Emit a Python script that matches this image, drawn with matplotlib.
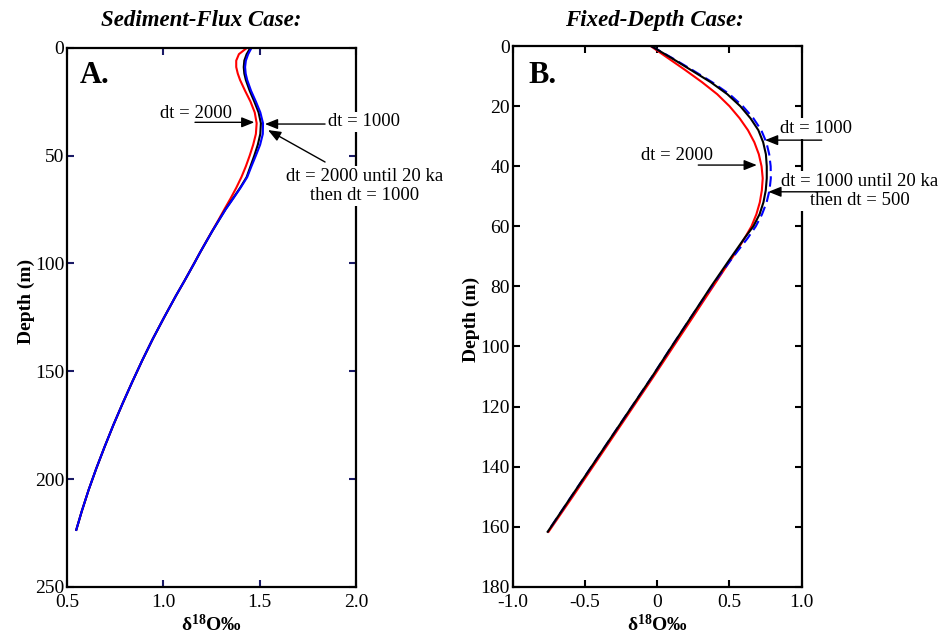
import matplotlib
matplotlib.use("Agg")
import matplotlib.pyplot as plt

plt.rcParams["font.family"] = ["Liberation Serif", "DejaVu Serif"]
plt.rcParams["mathtext.fontset"] = "custom"
plt.rcParams["mathtext.rm"] = "Liberation Serif"
plt.rcParams["mathtext.bf"] = "Liberation Serif:bold"
plt.rcParams["mathtext.it"] = "Liberation Serif:italic"

# --- sediment-flux case: d18O profiles vs depth (m) ---
depth_a = [0, 3, 6, 9, 12, 15, 20, 25, 30, 35, 40, 45, 50, 55, 60, 65, 70, 75,
           80, 85, 90, 95, 100, 108, 115, 125, 135, 145, 155, 165, 175, 185,
           195, 205, 215, 223.5]
# deep part is shared by all three runs
deep_a = [1.110, 1.065, 1.004, 0.945, 0.890, 0.838, 0.788, 0.740, 0.695,
          0.652, 0.612, 0.576, 0.548]
d18o_a_dt1000 = [1.452, 1.432, 1.420, 1.417, 1.420, 1.428, 1.448, 1.472, 1.494,
                 1.506, 1.503, 1.490, 1.472, 1.452, 1.432, 1.398, 1.360, 1.322,
                 1.288, 1.254, 1.222, 1.190, 1.160] + deep_a
d18o_a_dt2000 = [1.435, 1.392, 1.378, 1.378, 1.386, 1.398, 1.424, 1.452, 1.474,
                 1.484, 1.480, 1.466, 1.448, 1.428, 1.405, 1.378, 1.348, 1.316,
                 1.285, 1.253, 1.221, 1.190, 1.159] + deep_a
d18o_a_mixed = [1.458, 1.440, 1.428, 1.424, 1.427, 1.435, 1.455, 1.480, 1.503,
                1.517, 1.516, 1.502, 1.480, 1.457, 1.435, 1.400, 1.362, 1.323,
                1.288, 1.254, 1.222, 1.190, 1.160] + deep_a

# --- fixed-depth case ---
depth_b = [0, 4, 8, 12, 16, 20, 24, 28, 32, 36, 40, 44, 48, 52, 56, 60, 64, 68,
           72, 76, 80, 85, 90, 100, 110, 120, 130, 140, 150, 161.7]
d18o_b_dt1000 = [-0.04, 0.10, 0.235, 0.37, 0.485, 0.575, 0.645, 0.70, 0.733,
                 0.752, 0.758, 0.758, 0.751, 0.735, 0.708, 0.665, 0.603, 0.545,
                 0.487, 0.430, 0.373, 0.305, 0.237, 0.10, -0.035, -0.175,
                 -0.315, -0.455, -0.595, -0.758]
d18o_b_dt2000 = [-0.045, 0.075, 0.195, 0.31, 0.415, 0.50, 0.57, 0.628, 0.672,
                 0.703, 0.722, 0.730, 0.724, 0.71, 0.686, 0.652, 0.604, 0.553,
                 0.497, 0.442, 0.387, 0.318, 0.25, 0.112, -0.025, -0.165,
                 -0.305, -0.445, -0.585, -0.752]
d18o_b_mixed = [-0.04, 0.105, 0.245, 0.38, 0.50, 0.592, 0.665, 0.72, 0.755,
                0.775, 0.785, 0.786, 0.777, 0.757, 0.725, 0.682, 0.625, 0.56,
                0.497, 0.436, 0.378, 0.307, 0.237, 0.10, -0.035, -0.175,
                -0.315, -0.455, -0.595, -0.758]

xticks_a = [0.5, 1.0, 1.5, 2.0]
xticklabels_a = ["0.5", "1.0", "1.5", "2.0"]
yticks_a = [0, 50, 100, 150, 200, 250]
xticks_b = [-1.0, -0.5, 0, 0.5, 1.0]
xticklabels_b = ["-1.0", "-0.5", "0", "0.5", "1.0"]
yticks_b = [0, 20, 40, 60, 80, 100, 120, 140, 160, 180]

TICK_FS = 14
NOTE_FS = 13.5
LW = 1.5

fig = plt.figure(figsize=(9.43, 6.39), dpi=100)
ax_a = fig.add_axes([0.0711, 0.0814, 0.3065, 0.844])
ax_b = fig.add_axes([0.5437, 0.0818, 0.3065, 0.846])

note_box = dict(boxstyle="square,pad=0.1", facecolor="white", edgecolor="none")
arrow = dict(arrowstyle="-|>,head_length=0.55,head_width=0.22", color="black",
             lw=1.0, shrinkA=0, shrinkB=0, mutation_scale=14)


def style_axis(ax, xlim, ylim, xticks, xlabels, yticks, tick_color, ylab_y):
    ax.set_xlim(*xlim)
    ax.set_ylim(*ylim)
    ax.set_xticks(xticks)
    ax.set_xticklabels(xlabels)
    ax.set_yticks(yticks)
    ax.tick_params(direction="in", length=5, width=1.5, colors=tick_color,
                   labelcolor="black", labelsize=TICK_FS,
                   top=True, right=True)
    ax.tick_params(axis="x", pad=5)
    ax.tick_params(axis="y", pad=2)
    for sp in ax.spines.values():
        sp.set_linewidth(1.6)
    ax.set_ylabel("Depth (m)", fontsize=14, fontweight="bold")
    ax.set_xlabel(r"δ$^{\mathbf{18}}$O‰", fontsize=14, fontweight="bold")
    ax.yaxis.set_label_coords(-0.112, ylab_y)
    ax.xaxis.set_label_coords(0.5, -0.05)


def note(ax, text, xy, ha="left"):
    ax.annotate(text, xy=xy, fontsize=NOTE_FS, va="center", ha=ha,
                multialignment="center", bbox=note_box,
                annotation_clip=False, zorder=5)


def arrow_to(ax, tail, head):
    ax.annotate("", xy=head, xytext=tail, arrowprops=arrow,
                annotation_clip=False, zorder=6)


# panel A
ax_a.plot(d18o_a_dt2000, depth_a, color="red", lw=LW)
ax_a.plot(d18o_a_dt1000, depth_a, color="black", lw=LW)
ax_a.plot(d18o_a_mixed, depth_a, color="blue", lw=LW)
style_axis(ax_a, (0.5, 2.0), (250, 0), xticks_a, xticklabels_a, yticks_a,
           "#1a1a66", 0.53)
ax_a.text(0.564, 16.5, "A.", fontsize=22, fontweight="bold", va="baseline")

note(ax_a, "dt = 2000", (0.983, 30.3))
arrow_to(ax_a, (1.164, 34.6), (1.472, 34.6))
note(ax_a, "dt = 1000", (1.854, 34.4))
arrow_to(ax_a, (1.839, 35.4), (1.527, 35.4))
note(ax_a, "dt = 2000 until 20 ka\nthen dt = 1000", (2.046, 64.1), ha="center")
arrow_to(ax_a, (1.839, 53.0), (1.543, 38.2))

# panel B
ax_b.plot(d18o_b_dt2000, depth_b, color="red", lw=LW)
ax_b.plot(d18o_b_mixed, depth_b, color="blue", lw=LW, dashes=(5, 2.5))
ax_b.plot(d18o_b_dt1000, depth_b, color="black", lw=LW)
style_axis(ax_b, (-1.0, 1.0), (180, 0), xticks_b, xticklabels_b, yticks_b,
           "black", 0.495)
ax_b.text(-0.892, 12.2, "B.", fontsize=22, fontweight="bold", va="baseline")

note(ax_b, "dt = 1000", (0.850, 27.3))
arrow_to(ax_b, (1.138, 31.3), (0.746, 31.3))
note(ax_b, "dt = 2000", (-0.114, 36.3))
arrow_to(ax_b, (0.284, 39.6), (0.689, 39.6))
note(ax_b, "dt = 1000 until 20 ka\nthen dt = 500", (1.403, 48.2), ha="center")
arrow_to(ax_b, (1.191, 48.5), (0.769, 48.5))

fig.text(201.5 / 943, 1 - 26 / 639, "Sediment-Flux Case:", fontsize=16.5,
         fontweight="bold", fontstyle="italic", ha="center", va="baseline")
fig.text(654 / 943, 1 - 26 / 639, "Fixed-Depth Case:", fontsize=16.5,
         fontweight="bold", fontstyle="italic", ha="center", va="baseline")

fig.savefig("out.png", dpi=100)
